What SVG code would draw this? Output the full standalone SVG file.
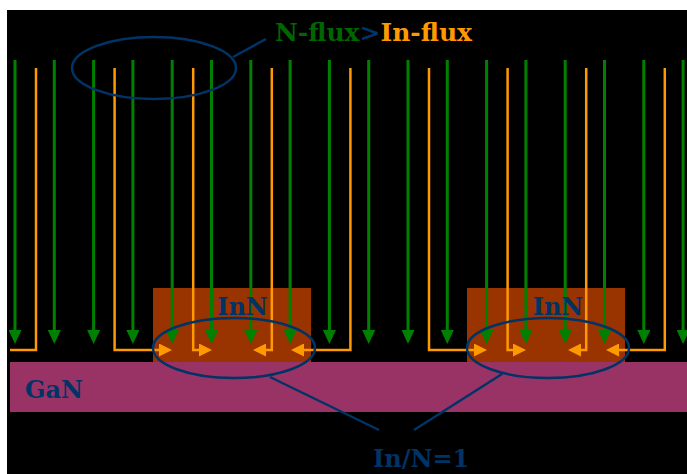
<svg xmlns="http://www.w3.org/2000/svg" width="687" height="474" viewBox="0 0 687 474">
<defs>
<style>
.t{font-family:"DejaVu Serif","Liberation Serif",serif;font-weight:bold;font-size:24px;fill:#003366}
.g{stroke:#008000;stroke-width:3;fill:none}
.o{stroke:#FF9900;stroke-width:2.5;fill:none}
.e{stroke:#003366;stroke-width:2.5;fill:none}
</style>
<marker id="ga" markerUnits="userSpaceOnUse" markerWidth="14" markerHeight="13" refX="0" refY="6.5" orient="auto" viewBox="0 0 14 13"><path d="M0,0 L14,6.5 L0,13 z" fill="#008000"/></marker>
<marker id="oa" markerUnits="userSpaceOnUse" markerWidth="13" markerHeight="13" refX="0" refY="6.5" orient="auto" viewBox="0 0 13 13"><path d="M0,0 L13,6.5 L0,13 z" fill="#FF9900"/></marker>
</defs>
<rect x="0" y="0" width="687" height="474" fill="#FFFFFF"/>
<rect id="background" x="7" y="10" width="680" height="464" fill="#000000"/>
<g id="inn1"><rect x="153" y="288" width="158" height="74" fill="#993300"/></g>
<g id="inn2"><rect x="467" y="288" width="158" height="74" fill="#993300"/></g>
<g id="gan"><rect x="10" y="362" width="677" height="50" fill="#993366"/><text class="t" x="25" y="398">GaN</text></g>
<g id="connectors">
<g id="n-flux" class="g" marker-end="url(#ga)">
<path d="M15,60 V330"/><path d="M54.3,60 V330"/><path d="M93.6,60 V330"/><path d="M132.9,60 V330"/><path d="M172.2,60 V330"/><path d="M211.5,60 V330"/><path d="M250.8,60 V330"/><path d="M290.1,60 V330"/><path d="M329.4,60 V330"/><path d="M368.7,60 V330"/><path d="M408,60 V330"/><path d="M447.3,60 V330"/><path d="M486.6,60 V330"/><path d="M525.9,60 V330"/><path d="M565.2,60 V330"/><path d="M604.5,60 V330"/><path d="M643.8,60 V330"/><path d="M683.1,60 V330"/>
</g>
<g id="in-flux" class="o">
<path d="M36,68 V350 H10"/>
<path d="M114.6,68 V350 H159" marker-end="url(#oa)"/>
<path d="M193.2,68 V350 H199" marker-end="url(#oa)"/>
<path d="M271.8,68 V350 H266" marker-end="url(#oa)"/>
<path d="M350.4,68 V350 H304" marker-end="url(#oa)"/>
<path d="M429,68 V350 H474" marker-end="url(#oa)"/>
<path d="M507.6,68 V350 H513" marker-end="url(#oa)"/>
<path d="M586.2,68 V350 H581" marker-end="url(#oa)"/>
<path d="M664.8,68 V350 H619" marker-end="url(#oa)"/>
</g>
<g id="callouts" class="e">
<path d="M233,57 L266,39"/>
<path d="M270,377 L379,430"/>
<path d="M502,374 L414,430"/>
</g>
</g>
<g id="inn-labels">
<text class="t" x="242.5" y="315" text-anchor="middle">InN</text>
<text class="t" x="558" y="315" text-anchor="middle">InN</text>
</g>
<g id="ellipse-top"><ellipse class="e" cx="154" cy="68" rx="82" ry="31"/></g>
<g id="ellipse-left"><ellipse class="e" cx="234" cy="348" rx="81" ry="30"/></g>
<g id="ellipse-right"><ellipse class="e" cx="548" cy="348" rx="81" ry="30"/></g>
<g id="title"><text class="t" x="275" y="41" style="font-size:25px"><tspan fill="#006600">N-flux</tspan><tspan fill="#003366">&gt;</tspan><tspan fill="#FF9900">In-flux</tspan></text></g>
<g id="ratio"><text class="t" x="373" y="467">In/N=1</text></g>
</svg>
